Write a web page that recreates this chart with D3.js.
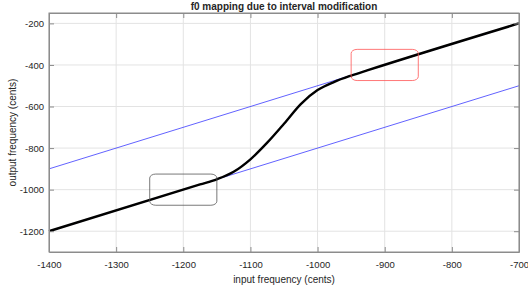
<!DOCTYPE html>
<meta charset="utf-8">
<head>
    <title>f0 mapping</title>
    <script src="https://d3js.org/d3.v7.min.js"></script>
</head>
<style type="text/css">
body{
    margin: 0;
    background: #ffffff;
}
text{
    font-family: "Liberation Sans", Arial, sans-serif;
    fill: #262626;
}
</style>
<body>
    <svg id="chart" width="528" height="288"></svg>

    <script type="text/javascript">
        // data (cents)
        var xTicks = [-1400, -1300, -1200, -1100, -1000, -900, -800, -700];
        var yTicks = [-1200, -1000, -800, -600, -400, -200];

        // thin blue guide lines
        var guideX = [-1400, -700];
        var upperGuideY = [-900, -200];
        var lowerGuideY = [-1200, -500];

        // thick black mapping curve
        var mapX = [-1400, -1175, -1150, -1125, -1100, -1075, -1050, -1025, -1000, -975, -950, -925, -700];
        var mapY = [-1200, -975, -950, -914, -854, -774, -683, -588, -521, -481, -451, -425, -200];

        // rounded boxes: centres and half sizes
        var boxCx = [-1200, -900];
        var boxCy = [-1000, -400];
        var boxHalfW = 50;
        var boxHalfH = 75;

        var svg = d3.select("#chart");
        var margin = {left: 49, right: 9, top: 13, bottom: 36};
        var width = 528 - margin.left - margin.right,
            height = 288 - margin.top - margin.bottom;

        var x = d3.scaleLinear().domain([-1400, -700]).range([0, width]);
        var y = d3.scaleLinear().domain([-1300, -150]).range([height, 0]);
        var fmt = function(d){ return String(d); };

        var g = svg.append("g").attr("transform", "translate(" + margin.left + "," + margin.top + ")");

        // grid
        g.append("g").selectAll("line").data(xTicks).enter().append("line")
            .attr("x1", function(d){ return x(d); }).attr("x2", function(d){ return x(d); })
            .attr("y1", 0).attr("y2", height)
            .attr("stroke", "#e3e3e3").attr("stroke-width", 1);
        g.append("g").selectAll("line").data(yTicks).enter().append("line")
            .attr("x1", 0).attr("x2", width)
            .attr("y1", function(d){ return y(d); }).attr("y2", function(d){ return y(d); })
            .attr("stroke", "#e3e3e3").attr("stroke-width", 1);

        // blue guides
        var line = d3.line().x(function(d){ return x(d[0]); }).y(function(d){ return y(d[1]); });
        [upperGuideY, lowerGuideY].forEach(function(ys){
            g.append("path")
                .datum(d3.zip(guideX, ys))
                .attr("d", line)
                .attr("fill", "none")
                .attr("stroke", "#3a3aff")
                .attr("stroke-width", 0.8);
        });

        // mapping curve
        var curve = d3.line().curve(d3.curveMonotoneX)
            .x(function(d){ return x(d[0]); }).y(function(d){ return y(d[1]); });
        g.append("path")
            .datum(d3.zip(mapX, mapY))
            .attr("d", curve)
            .attr("fill", "none")
            .attr("stroke", "#000")
            .attr("stroke-width", 2.4);

        // boxes
        var boxColors = ["#555555", "#ff5555"];
        boxCx.forEach(function(cx, i){
            g.append("rect")
                .attr("x", x(cx - boxHalfW))
                .attr("y", y(boxCy[i] + boxHalfH))
                .attr("width", x(cx + boxHalfW) - x(cx - boxHalfW))
                .attr("height", y(boxCy[i] - boxHalfH) - y(boxCy[i] + boxHalfH))
                .attr("rx", 6).attr("ry", 4)
                .attr("fill", "none")
                .attr("stroke", boxColors[i])
                .attr("stroke-width", 0.8);
        });

        // axes with inward ticks, box on
        var axisColor = "#8c8c8c";
        var xb = g.append("g").attr("transform", "translate(0," + height + ")")
            .call(d3.axisBottom(x).tickValues(xTicks).tickFormat(fmt).tickSizeInner(-5).tickSizeOuter(0).tickPadding(9));
        var xt = g.append("g")
            .call(d3.axisTop(x).tickValues(xTicks).tickSizeInner(-5).tickSizeOuter(0).tickFormat(""));
        var yl = g.append("g")
            .call(d3.axisLeft(y).tickValues(yTicks).tickFormat(fmt).tickSizeInner(-5).tickSizeOuter(0).tickPadding(5));
        var yr = g.append("g").attr("transform", "translate(" + width + ",0)")
            .call(d3.axisRight(y).tickValues(yTicks).tickSizeInner(-5).tickSizeOuter(0).tickFormat(""));
        [xb, xt, yl, yr].forEach(function(a){
            a.selectAll("path, line").attr("stroke", axisColor);
            a.selectAll("text").style("font-size", "9.5px").attr("fill", "#262626");
        });
        g.append("rect").attr("width", width).attr("height", height)
            .attr("fill", "none").attr("stroke", axisColor).attr("stroke-width", 1);

        // labels
        svg.append("text")
            .attr("x", margin.left + width / 2).attr("y", 10)
            .attr("text-anchor", "middle")
            .style("font-size", "10px").style("font-weight", "bold")
            .attr("fill", "#000")
            .text("f0 mapping due to interval modification");
        svg.append("text")
            .attr("x", margin.left + width / 2).attr("y", 283)
            .attr("text-anchor", "middle")
            .style("font-size", "10px")
            .text("input frequency (cents)");
        svg.append("text")
            .attr("transform", "translate(16," + (margin.top + height / 2) + ") rotate(-90)")
            .attr("text-anchor", "middle")
            .style("font-size", "10px")
            .text("output frequency (cents)");
    </script>
</body>
